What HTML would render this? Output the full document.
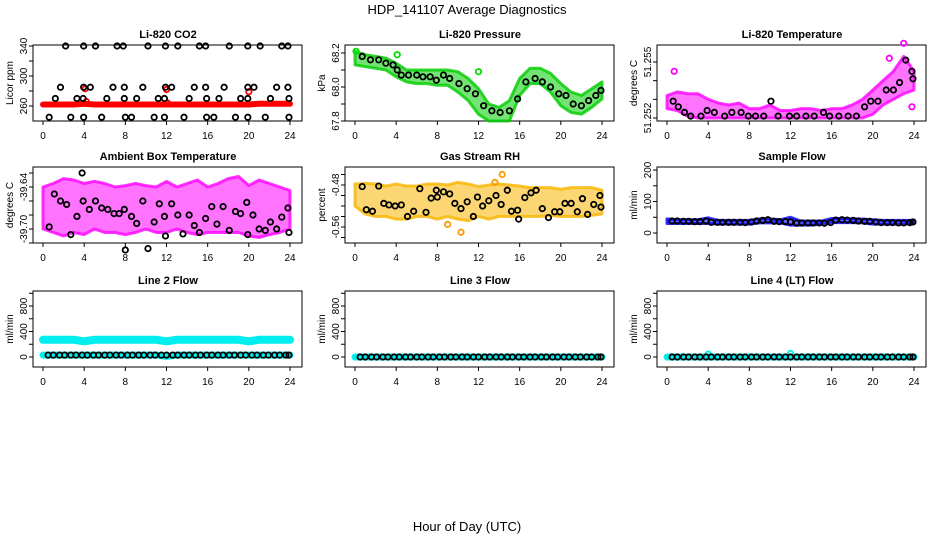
<!DOCTYPE html>
<html><head><meta charset="utf-8"><style>
html,body{margin:0;padding:0;background:#fff;}
svg{display:block;font-family:"Liberation Sans",sans-serif;}
</style></head><body>
<svg id="chart" width="936" height="540" viewBox="0 0 936 540">
<text x="467" y="14" text-anchor="middle" font-size="13">HDP_141107  Average Diagnostics</text>
<text x="467" y="531" text-anchor="middle" font-size="13">Hour of Day (UTC)</text>
</svg>
<script>
// ---- data ----
const xTicks=[0,4,8,12,16,20,24];
const hours=[0,1,2,3,4,5,6,7,8,9,10,11,12,13,14,15,16,17,18,19,20,21,22,23,24];

const co2BlackX=[2.2,3.95,5.1,7.2,7.8,10.2,11.9,13.1,15.2,15.8,18.1,19.9,21.1,23.2,23.8,1.7,3.95,4.6,6.8,7.9,9.7,11.9,12.5,14.7,15.8,17.6,19.9,20.5,22.7,23.8,1.2,3.3,3.9,6.2,7.9,9.1,11.2,11.8,14.2,15.9,17.1,19.2,19.9,22.1,23.9,0.6,2.7,3.95,5.7,8.0,8.6,10.8,11.8,13.7,15.9,16.6,18.7,19.9,21.6,23.9];
const co2BlackY=[340,340,340,340,340,340,340,340,340,340,340,340,340,340,340,285,285,285,285,285,285,285,285,285,285,285,285,285,285,285,270,270,270,270,270,270,270,270,270,270,270,270,270,270,270,245,245,245,245,245,245,245,245,245,245,245,245,245,245,245];
const co2Red=[262,262,262,262,263,262,262,262,262,262,262,262,262,262,262,262,262,262,262,262,262,263,263,263,263];
const co2RedX=[4.1,12.0,20.0,4.2,12.1];
const co2RedY=[283,282,279,266,264];

const pressUpper=[68.21,68.19,68.18,68.17,68.14,68.10,68.10,68.10,68.10,68.10,68.09,68.05,67.99,67.90,67.88,67.92,68.05,68.11,68.11,68.08,68.02,67.97,67.95,67.99,68.03];
const pressLower=[68.13,68.12,68.11,68.10,68.06,68.03,68.02,68.02,68.01,68.01,67.97,67.92,67.84,67.80,67.80,67.80,67.95,68.02,68.02,67.97,67.89,67.85,67.84,67.88,67.93];
const pressBlackX=[0.7,1.5,2.3,3.0,3.7,4.1,4.5,5.2,6.0,6.6,7.3,7.9,8.6,9.2,10.1,10.9,11.7,12.5,13.3,14.1,15.0,15.8,16.6,17.5,18.2,19.0,19.8,20.5,21.2,22.0,22.7,23.4,23.9];
const pressBlackY=[68.18,68.16,68.16,68.14,68.13,68.10,68.07,68.07,68.07,68.06,68.06,68.04,68.07,68.05,68.02,67.99,67.96,67.89,67.86,67.85,67.86,67.93,68.03,68.05,68.03,68.00,67.96,67.95,67.90,67.89,67.92,67.95,67.98];
const pressOutX=[0.1,4.1,12.0];
const pressOutY=[68.21,68.19,68.09];

const tempUpper=[51.2532,51.2534,51.2533,51.2533,51.2530,51.2528,51.2527,51.2528,51.2525,51.2525,51.2527,51.2524,51.2524,51.2525,51.2525,51.2524,51.2525,51.2525,51.2527,51.2530,51.2535,51.2540,51.2545,51.2553,51.2545];
const tempLower=[51.2525,51.2524,51.2521,51.2520,51.2520,51.2520,51.2520,51.2520,51.2520,51.2520,51.2520,51.2520,51.2520,51.2520,51.2520,51.2520,51.2520,51.2520,51.2520,51.2520,51.2522,51.2527,51.2530,51.2533,51.2535];
const tempBlackX=[0.6,1.1,1.7,2.3,3.3,3.9,4.6,5.6,6.3,7.2,7.9,8.6,9.4,10.1,10.8,11.9,12.6,13.5,14.3,15.2,15.8,16.7,17.6,18.4,19.2,19.8,20.5,21.3,22.0,22.6,23.2,23.8,23.9];
const tempBlackY=[51.2529,51.2526,51.2523,51.2521,51.2521,51.2524,51.2523,51.2521,51.2523,51.2523,51.2521,51.2521,51.2521,51.2529,51.2521,51.2521,51.2521,51.2521,51.2521,51.2523,51.2521,51.2521,51.2521,51.2521,51.2526,51.2529,51.2529,51.2535,51.2535,51.2539,51.2551,51.2545,51.2541];
const tempOutX=[0.7,21.6,23.0,23.8];
const tempOutY=[51.2545,51.2552,51.2560,51.2526];

const ambUpper=[-39.640,-39.635,-39.628,-39.630,-39.635,-39.632,-39.635,-39.640,-39.638,-39.635,-39.638,-39.640,-39.632,-39.640,-39.635,-39.630,-39.640,-39.635,-39.628,-39.625,-39.638,-39.630,-39.635,-39.640,-39.645];
const ambLower=[-39.700,-39.705,-39.710,-39.705,-39.708,-39.700,-39.705,-39.705,-39.708,-39.705,-39.700,-39.705,-39.705,-39.700,-39.705,-39.708,-39.705,-39.705,-39.705,-39.705,-39.710,-39.712,-39.708,-39.705,-39.700];
const ambBlackX=[0.6,1.1,1.7,2.3,2.7,3.3,3.9,3.8,4.5,5.1,5.7,6.3,6.9,7.4,8.0,7.9,8.6,9.1,9.7,10.2,10.8,11.3,11.8,11.9,12.5,13.1,13.6,14.2,14.7,15.2,15.8,16.4,16.9,17.5,18.1,18.7,19.2,19.8,19.9,20.4,21.0,21.6,22.1,22.7,23.2,23.8,23.9];
const ambBlackY=[-39.697,-39.650,-39.660,-39.665,-39.708,-39.682,-39.660,-39.620,-39.672,-39.660,-39.670,-39.672,-39.678,-39.678,-39.730,-39.672,-39.682,-39.692,-39.660,-39.728,-39.690,-39.664,-39.682,-39.710,-39.664,-39.680,-39.707,-39.680,-39.695,-39.705,-39.685,-39.668,-39.693,-39.668,-39.702,-39.675,-39.678,-39.662,-39.708,-39.680,-39.700,-39.702,-39.690,-39.700,-39.683,-39.670,-39.705];

const rhUpper=[-0.478,-0.477,-0.478,-0.482,-0.478,-0.482,-0.482,-0.478,-0.478,-0.480,-0.475,-0.478,-0.483,-0.480,-0.478,-0.480,-0.482,-0.485,-0.485,-0.485,-0.488,-0.485,-0.485,-0.485,-0.490];
const rhLower=[-0.520,-0.535,-0.540,-0.540,-0.545,-0.545,-0.540,-0.540,-0.545,-0.540,-0.545,-0.548,-0.540,-0.545,-0.540,-0.540,-0.540,-0.540,-0.540,-0.538,-0.540,-0.540,-0.540,-0.538,-0.535];
const rhBlackX=[0.7,1.1,1.7,2.3,2.8,3.3,3.9,4.5,5.1,5.7,6.3,6.9,7.4,7.9,8.0,8.6,9.2,9.7,10.3,10.9,11.5,11.9,12.4,13.0,13.7,14.2,14.8,15.2,15.9,15.8,16.5,17.1,17.6,18.2,18.8,19.4,19.9,20.4,21.0,21.6,22.1,22.6,23.2,23.8,23.9];
const rhBlackY=[-0.483,-0.527,-0.530,-0.482,-0.515,-0.518,-0.520,-0.518,-0.540,-0.530,-0.487,-0.532,-0.505,-0.490,-0.503,-0.493,-0.497,-0.515,-0.525,-0.512,-0.540,-0.503,-0.520,-0.510,-0.500,-0.517,-0.490,-0.530,-0.545,-0.528,-0.504,-0.495,-0.490,-0.525,-0.542,-0.531,-0.531,-0.515,-0.515,-0.531,-0.506,-0.536,-0.517,-0.500,-0.522];
const rhOutX=[14.3,10.3,9.0,13.6];
const rhOutY=[-0.460,-0.570,-0.555,-0.475];

const flowUpper=[45,42,42,42,48,40,40,40,40,45,45,42,50,38,38,38,46,46,45,44,42,40,40,40,40];
const flowLower=[30,30,30,30,30,28,28,28,28,32,32,32,25,25,25,28,33,33,33,32,28,28,28,28,30];
const flowTimes=[0.5,1.0,1.6,2.1,2.7,3.2,3.8,4.3,4.9,5.4,6.0,6.5,7.1,7.6,8.2,8.7,9.3,9.8,10.4,10.9,11.5,12.0,12.6,13.1,13.7,14.2,14.8,15.3,15.9,16.4,17.0,17.5,18.1,18.6,19.2,19.7,20.3,20.8,21.4,21.9,22.5,23.0,23.6,23.9];
const sampleBlack=[38,38,37,37,36,36,38,34,34,34,34,34,34,33,35,38,40,42,37,36,36,35,31,32,32,32,32,31,33,41,42,41,40,38,37,37,35,33,33,33,32,32,33,35];
const line2Black=[30,30,30,30,30,30,30,30,30,30,30,30,30,30,30,30,30,30,30,30,30,30,30,30,30,30,30,30,30,30,30,30,30,30,30,30,30,30,30,30,30,30,30,30];
const line3Black=[0,0,0,0,0,0,0,0,0,0,0,0,0,0,0,0,0,0,0,0,0,0,0,0,0,0,0,0,0,0,0,0,0,0,0,0,0,0,0,0,0,0,0,0];
const line4Black=[0,0,0,0,0,0,0,0,0,0,0,0,0,0,0,0,0,0,0,0,0,0,0,0,0,0,0,0,0,0,0,0,0,0,0,0,0,0,0,0,0,0,0,0];
const line2High=[270,270,270,270,245,270,270,270,270,270,270,270,245,270,270,270,270,270,270,270,245,270,270,270,270];
const line2Low=[30,30,30,30,30,30,30,30,30,30,30,30,10,30,30,30,30,30,30,30,30,30,30,30,30];
const line3Cyan=[0,0,0,0,0,0,0,0,0,0,0,0,0,0,0,0,0,0,0,0,0,0,0,0,0];
const line4Cyan=[0,0,0,0,0,0,0,0,0,0,0,0,0,0,0,0,0,0,0,0,0,0,0,0,0];
const line4SpotX=[4.0,12.0];
const line4SpotY=[45,55];

// ---- layout ----
const NS='http://www.w3.org/2000/svg';
const svg=document.getElementById('chart');
const W=247/24;
function el(tag,name,parent){
  const e=document.createElementNS(NS,tag);
  
  
  (parent||svg).appendChild(e);return e;
}
function panel(cfg){
  const g=el('g',cfg.name);
  const off=cfg.off, top=cfg.top, bot=top+76;
  const xs=h=>off+43+h*W;
  const ys=v=>cfg.p0+(v-cfg.v0)*(cfg.p1-cfg.p0)/(cfg.v1-cfg.v0);
  const t=el('text',cfg.name+'-title',g);
  t.setAttribute('x',off+168);t.setAttribute('y',top-7);t.setAttribute('text-anchor','middle');
  t.setAttribute('font-size','11');t.setAttribute('font-weight','bold');t.textContent=cfg.title;
  const b=el('rect',cfg.name+'-frame',g);
  b.setAttribute('x',off+33);b.setAttribute('y',top);b.setAttribute('width',269);b.setAttribute('height',76);
  b.setAttribute('fill','none');b.setAttribute('stroke','#000');
  xTicks.forEach(v=>{
    const l=el('line','x-tick',g);
    l.setAttribute('x1',xs(v));l.setAttribute('x2',xs(v));l.setAttribute('y1',bot);l.setAttribute('y2',bot+4);l.setAttribute('stroke','#000');
    const tx=el('text','x-tick-label',g);
    tx.setAttribute('x',xs(v));tx.setAttribute('y',bot+18);tx.setAttribute('text-anchor','middle');tx.setAttribute('font-size','10');
    tx.textContent=v;
  });
  cfg.ticks.forEach(v=>{
    const l=el('line','y-tick',g);
    l.setAttribute('x1',off+29);l.setAttribute('x2',off+33);l.setAttribute('y1',ys(v));l.setAttribute('y2',ys(v));l.setAttribute('stroke','#000');
  });
  cfg.labels.forEach((s,i)=>{
    const tx=el('text','y-tick-label',g);
    const y=ys(cfg.labelVals[i]);
    tx.setAttribute('transform','translate('+(off+27)+','+y+') rotate(-90)');
    tx.setAttribute('text-anchor','middle');tx.setAttribute('font-size','10');tx.textContent=s;
  });
  const yl=el('text','y-axis-title',g);
  yl.setAttribute('transform','translate('+(off+13)+','+(top+38)+') rotate(-90)');
  yl.setAttribute('text-anchor','middle');yl.setAttribute('font-size','10');yl.textContent=cfg.ylab;
  return {g,xs,ys};
}
function band(p,up,lo,color,name){
  const pts=[];
  hours.forEach((h,i)=>pts.push(p.xs(h)+','+p.ys(up[i])));
  for(let i=hours.length-1;i>=0;i--)pts.push(p.xs(hours[i])+','+p.ys(lo[i]));
  const pg=el('polygon',name,p.g);
  pg.setAttribute('points',pts.join(' '));pg.setAttribute('fill',color);pg.setAttribute('fill-opacity','0.55');
  pg.setAttribute('stroke',color);pg.setAttribute('stroke-opacity','0.8');pg.setAttribute('stroke-width','3');pg.setAttribute('stroke-linejoin','round');
}
function line(p,vals,color,w,name){
  const pl=el('polyline',name,p.g);
  pl.setAttribute('points',hours.map((h,i)=>p.xs(h)+','+p.ys(vals[i])).join(' '));
  pl.setAttribute('fill','none');pl.setAttribute('stroke',color);pl.setAttribute('stroke-width',w);pl.setAttribute('stroke-linecap','round');
}
function pts(p,X,Y,color,name){
  X.forEach((x,i)=>{
    const c=el('circle',name,p.g);
    c.setAttribute('cx',p.xs(x));c.setAttribute('cy',p.ys(Y[i]));c.setAttribute('r','2.7');
    c.setAttribute('fill','none');c.setAttribute('stroke',color);c.setAttribute('stroke-width','1.8');
  });
}
const rows=[45,167,291],cols=[0,312,624];

let p=panel({name:'co2-panel',title:'Li-820 CO2',off:cols[0],top:rows[0],v0:260,p0:106,v1:340,p1:46,ticks:[260,280,300,320,340],labelVals:[260,300,340],labels:['260','300','340'],ylab:'Licor ppm'});
line(p,co2Red,'#ff0000',6,'co2-red-series');
pts(p,co2RedX,co2RedY,'#ff0000','co2-red-point');
pts(p,co2BlackX,co2BlackY,'#000','co2-average-point');

p=panel({name:'pressure-panel',title:'Li-820 Pressure',off:cols[1],top:rows[0],v0:67.8,p0:121,v1:68.2,p1:53,ticks:[67.8,67.9,68.0,68.1,68.2],labelVals:[67.8,68.0,68.2],labels:['67.8','68.0','68.2'],ylab:'kPa'});
band(p,pressUpper,pressLower,'#00cc00','pressure-band');
pts(p,pressOutX,pressOutY,'#00dd00','pressure-outlier');
pts(p,pressBlackX,pressBlackY,'#000','pressure-average-point');

p=panel({name:'temperature-panel',title:'Li-820 Temperature',off:cols[2],top:rows[0],v0:51.252,p0:118,v1:51.255,p1:62,ticks:[51.252,51.253,51.254,51.255],labelVals:[51.252,51.255],labels:['51.252','51.255'],ylab:'degrees C'});
band(p,tempUpper,tempLower,'#ff00ff','temperature-band');
pts(p,tempOutX,tempOutY,'#ff00ff','temperature-outlier');
pts(p,tempBlackX,tempBlackY,'#000','temperature-average-point');

p=panel({name:'ambient-panel',title:'Ambient Box Temperature',off:cols[0],top:rows[1],v0:-39.70,p0:229,v1:-39.64,p1:187,ticks:[-39.72,-39.70,-39.68,-39.66,-39.64,-39.62],labelVals:[-39.70,-39.64],labels:['-39.70','-39.64'],ylab:'degrees C'});
band(p,ambUpper,ambLower,'#ff00ff','ambient-band');
pts(p,ambBlackX,ambBlackY,'#000','ambient-average-point');

p=panel({name:'rh-panel',title:'Gas Stream RH',off:cols[1],top:rows[1],v0:-0.48,p0:185,v1:-0.56,p1:227,ticks:[-0.46,-0.48,-0.50,-0.52,-0.54,-0.56,-0.58],labelVals:[-0.48,-0.56],labels:['-0.48','-0.56'],ylab:'percent'});
band(p,rhUpper,rhLower,'#f7b500','rh-band');
pts(p,rhOutX,rhOutY,'#ff9900','rh-outlier');
pts(p,rhBlackX,rhBlackY,'#000','rh-average-point');

p=panel({name:'sample-flow-panel',title:'Sample Flow',off:cols[2],top:rows[1],v0:0,p0:233,v1:200,p1:170,ticks:[0,50,100,150,200],labelVals:[0,100,200],labels:['0','100','200'],ylab:'ml/min'});
band(p,flowUpper,flowLower,'#0000ff','sample-flow-band');
pts(p,flowTimes,sampleBlack,'#000','sample-flow-average-point');

const lcfg={v0:0,p0:357,v1:800,p1:306,ticks:[0,200,400,600,800,1000],labelVals:[0,400,800],labels:['0','400','800'],ylab:'ml/min'};
p=panel(Object.assign({name:'line2-panel',title:'Line 2 Flow',off:cols[0],top:rows[2]},lcfg));
line(p,line2High,'#00eeee',8,'line2-high-series');
line(p,line2Low,'#00eeee',7,'line2-low-series');
pts(p,flowTimes,line2Black,'#000','line2-average-point');

p=panel(Object.assign({name:'line3-panel',title:'Line 3 Flow',off:cols[1],top:rows[2]},lcfg));
line(p,line3Cyan,'#00eeee',7,'line3-series');
pts(p,flowTimes,line3Black,'#000','line3-average-point');

p=panel(Object.assign({name:'line4-panel',title:'Line 4 (LT) Flow',off:cols[2],top:rows[2]},lcfg));
line(p,line4Cyan,'#00eeee',7,'line4-series');
pts(p,line4SpotX,line4SpotY,'#00eeee','line4-spike');
pts(p,flowTimes,line4Black,'#000','line4-average-point');
</script>
</body></html>
